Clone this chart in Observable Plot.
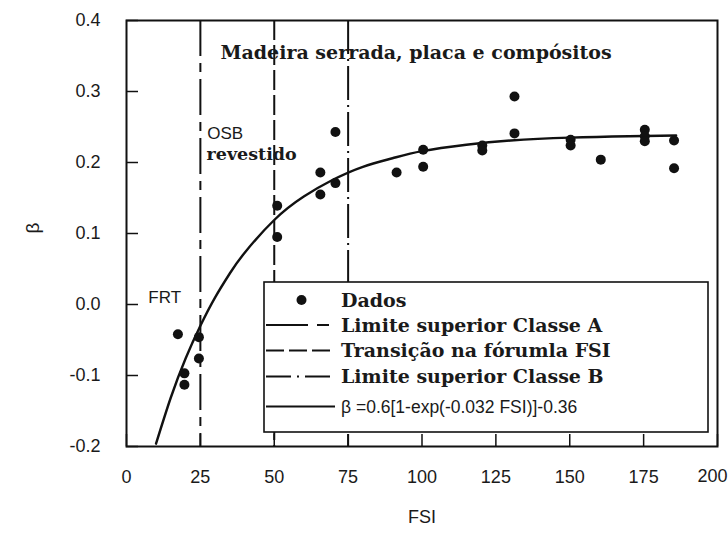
<!DOCTYPE html>
<html><head><meta charset="utf-8">
<script src="https://cdn.jsdelivr.net/npm/d3@7"></script>
<script src="https://cdn.jsdelivr.net/npm/@observablehq/plot@0.6"></script>
<style>body{margin:0;background:#fff} svg{display:block}</style>
</head><body><div id="chart"></div>
<script>
// ---- data ----
const dataFSI  = [17.4, 19.6, 19.6, 24.5, 24.5, 51, 51, 65.6, 65.6, 70.7, 70.7, 91.4, 100.4, 100.4, 120.4, 120.4, 131.3, 131.3, 150.3, 150.3, 160.5, 175.4, 175.4, 175.4, 185.3, 185.3];
const dataBeta = [-0.042, -0.097, -0.113, -0.046, -0.076, 0.139, 0.095, 0.186, 0.155, 0.243, 0.171, 0.186, 0.218, 0.194, 0.224, 0.217, 0.293, 0.241, 0.232, 0.224, 0.204, 0.246, 0.237, 0.230, 0.231, 0.192];
const fitFSI  = [10, 15, 20, 25, 30, 35, 40, 50, 60, 70, 80, 90, 100, 115, 130, 150, 170, 186];
const fitBeta = [-0.196, -0.131, -0.076, -0.030, 0.010, 0.044, 0.073, 0.119, 0.152, 0.176, 0.194, 0.206, 0.216, 0.225, 0.231, 0.235, 0.237, 0.238];
const limitFSI = [25, 50, 75];
const xTicks = [0, 25, 50, 75, 100, 125, 150, 175, 200];
const yTicks = [-0.2, -0.1, 0.0, 0.1, 0.2, 0.3, 0.4];
const legendLabels = ["Dados", "Limite superior Classe A", "Transição na fórumla FSI", "Limite superior Classe B", "β =0.6[1-exp(-0.032 FSI)]-0.36"];
const titleText = "Madeira serrada, placa e compósitos";
const notes = [{t: "OSB", x: 27.3, y: 0.241}, {t: "revestido", x: 27.1, y: 0.211}, {t: "FRT", x: 7.4, y: 0.010}];

// ---- styles ----
const ink = "#111";
const dashA = "36,7,9,7";
const dashT = "20,5";
const dashB = "34,5,2,5";
const serif = "'DejaVu Serif', 'Liberation Serif', serif";
const sans = "'Liberation Sans', Arial, sans-serif";

const points = dataFSI.map((x, i) => ({x, y: dataBeta[i]}));
const fit = fitFSI.map((x, i) => ({x, y: fitBeta[i]}));
const lastTick = xTicks[xTicks.length - 1];

const plot = Plot.plot({
  width: 728, height: 535,
  marginLeft: 126, marginRight: 11, marginTop: 20, marginBottom: 89,
  x: {domain: [0, 200]},
  y: {domain: [-0.2, 0.4]},
  style: {fontFamily: sans, fontSize: "18px", color: "#1a1a1a", background: "#fff"},
  marks: [
    Plot.ruleX([limitFSI[0]], {x: d => d, stroke: ink, strokeWidth: 2, strokeDasharray: dashA}),
    Plot.ruleX([limitFSI[1]], {x: d => d, stroke: ink, strokeWidth: 2, strokeDasharray: dashT}),
    Plot.ruleX([limitFSI[2]], {x: d => d, stroke: ink, strokeWidth: 2, strokeDasharray: dashB}),
    Plot.line(fit, {x: "x", y: "y", curve: "natural", stroke: ink, strokeWidth: 2.4}),
    Plot.dot(points, {x: "x", y: "y", r: 5, fill: ink, stroke: null}),
    Plot.text([titleText], {x: 98, y: 0.355, text: d => d, fontFamily: serif, fontWeight: "bold", fontSize: 19, fill: "#1a1a1a"}),
    Plot.text(notes.slice(0, 1), {x: "x", y: "y", text: "t", textAnchor: "start", fontFamily: sans, fontSize: 17, fill: "#1a1a1a"}),
    Plot.text(notes.slice(1, 2), {x: "x", y: "y", text: "t", textAnchor: "start", fontFamily: serif, fontWeight: 600, fontSize: 17.5, fill: "#1a1a1a"}),
    Plot.text(notes.slice(2, 3), {x: "x", y: "y", text: "t", textAnchor: "start", fontFamily: sans, fontSize: 17, fill: "#1a1a1a"}),
    Plot.axisX({ticks: xTicks, tickSize: 12, dy: -12, tickFormat: () => "", label: null, stroke: ink, strokeWidth: 1.5}),
    Plot.axisY({ticks: yTicks, tickSize: 12, dx: 12, tickFormat: () => "", label: null, stroke: ink, strokeWidth: 1.5}),
    Plot.axisX({ticks: xTicks.slice(0, -1), tickSize: 0, tickPadding: 24, tickFormat: d => String(d), label: null}),
    Plot.text([lastTick], {x: d => d, frameAnchor: "bottom", dy: 35, dx: 10, textAnchor: "end", text: d => String(d), fontSize: 18, fill: "#1a1a1a"}),
    Plot.axisY({ticks: yTicks, tickSize: 0, tickPadding: 26, tickFormat: d => d.toFixed(1), label: null}),
    Plot.text(["FSI"], {frameAnchor: "bottom", dy: 76, text: d => d, fontSize: 18, fill: "#1a1a1a"}),
    Plot.text(["β"], {frameAnchor: "left", dx: -94, rotate: -90, text: d => d, fontSize: 19, fill: "#1a1a1a"}),
    Plot.frame({stroke: ink, strokeWidth: 2})
  ]
});

// ---- legend box (inside the frame, lower right) ----
const svg = d3.select(plot);
const lg = svg.append("g").attr("text-anchor", "start");
const box = {x: 264, y: 282, w: 444, h: 150};
lg.append("rect").attr("x", box.x).attr("y", box.y).attr("width", box.w).attr("height", box.h)
  .attr("fill", "#fff").attr("stroke", ink).attr("stroke-width", 1.6);
const rowY = [300, 325, 350.5, 376.5, 406.5];
const legendDash = [null, "42,9,12,20", "18,5", "25,6,2,6", null];
const x0 = 266, x1 = 335, tx = 341;
legendLabels.forEach((lab, i) => {
  const y = rowY[i];
  if (i === 0) {
    lg.append("circle").attr("cx", 301.5).attr("cy", y).attr("r", 5).attr("fill", ink);
  } else {
    const ln = lg.append("line").attr("x1", x0).attr("x2", x1).attr("y1", y).attr("y2", y)
      .attr("stroke", ink).attr("stroke-width", 2);
    if (legendDash[i]) ln.attr("stroke-dasharray", legendDash[i]);
  }
  const t = lg.append("text").attr("x", tx).attr("y", y).attr("dy", "0.35em")
    .attr("text-anchor", "start").text(lab).attr("fill", "#1a1a1a");
  if (i === 4) t.attr("font-family", sans).attr("font-size", 17.5);
  else t.attr("font-family", serif).attr("font-weight", "bold").attr("font-size", 19);
});

document.getElementById("chart").append(plot);
</script>
</body></html>
